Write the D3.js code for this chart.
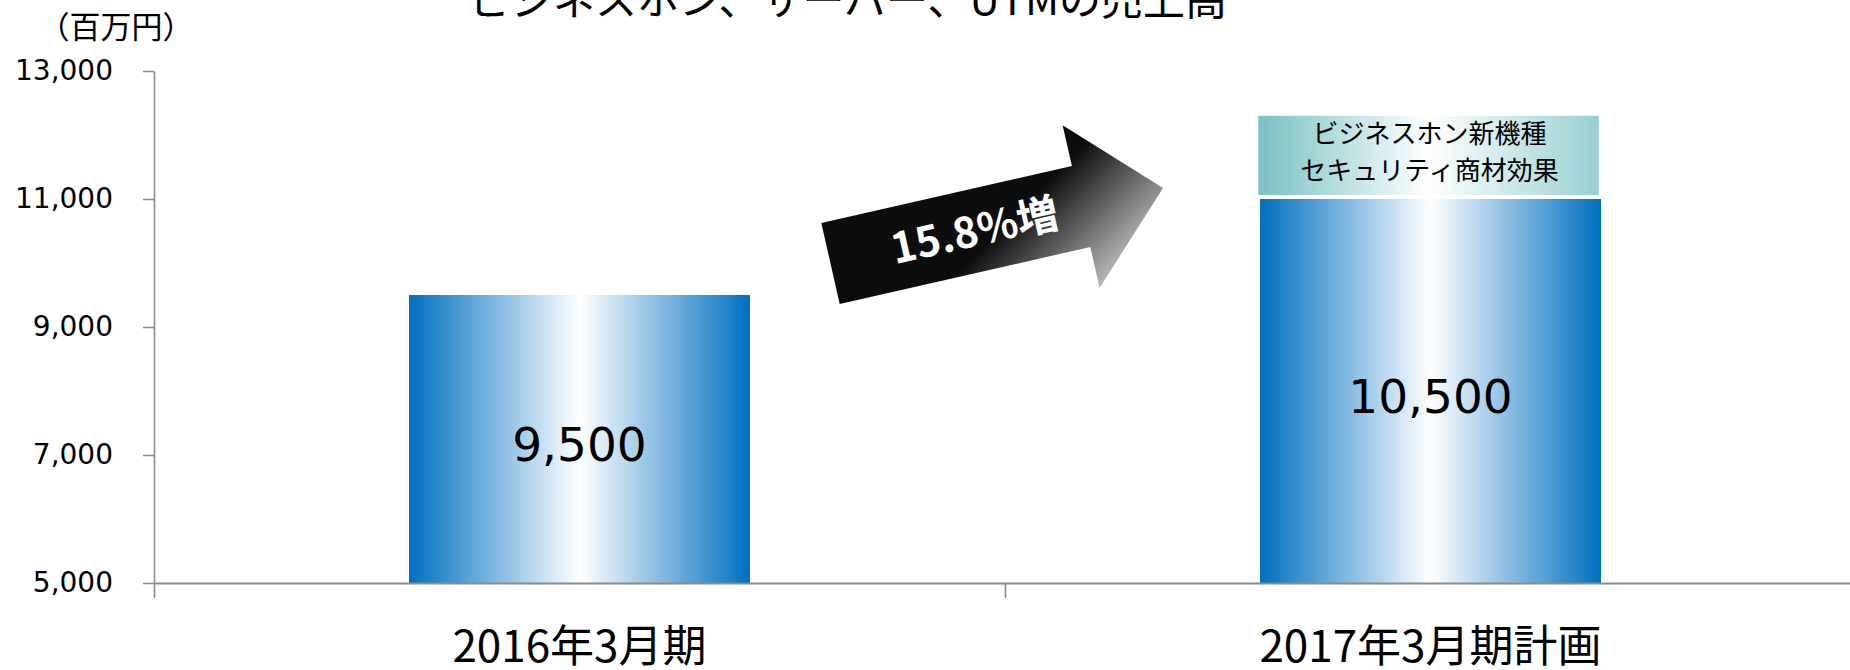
<!DOCTYPE html>
<html lang="ja">
<head>
<meta charset="utf-8">
<title>ビジネスホン、サーバー、UTMの売上高</title>
<script src="https://cdn.jsdelivr.net/npm/d3@7/dist/d3.min.js"></script>
<style>
  html, body { margin: 0; padding: 0; background: #ffffff; }
  svg { display: block; }
  .jp { font-family: "Noto Sans CJK JP", "Noto Sans", sans-serif; }
  .num { font-family: "DejaVu Sans", Verdana, sans-serif; }
</style>
</head>
<body>
<div id="chart"></div>
<script>
// ---- data ----
const chartTitle = "ビジネスホン、サーバー、UTMの売上高";
const unitLabel = "（百万円）";
const categories = ["2016年3月期", "2017年3月期計画"];
const baseSales = [9500, 10500];      // 百万円
const addedSales = [0, 500];          // 新機種・セキュリティ商材による上積み
const yTickValues = [5000, 7000, 9000, 11000, 13000];
const yDomain = [5000, 13000];
const noteLines = ["ビジネスホン新機種", "セキュリティ商材効果"];
const noteTopValue = 12300;

// ---- layout ----
const width = 1850, height = 670;
const plot = { left: 154, right: 1856, top: 71, bottom: 583 };

const table = categories.map((c, i) => ({ category: c, base: baseSales[i], added: addedSales[i] }));
const stacked = d3.stack().keys(["base", "added"])(table);
const totals = table.map(d => d.base + d.added);

const svg = d3.select("#chart").append("svg")
  .attr("width", width).attr("height", height);

const x = d3.scaleBand()
  .domain(categories)
  .range([plot.left, plot.right])
  .paddingInner(0.6)
  .paddingOuter(0.3);

const y = d3.scaleLinear().domain(yDomain).range([plot.bottom, plot.top]);

// ---- gradients ----
const defs = svg.append("defs");
const barGrad = defs.append("linearGradient").attr("id", "barFill")
  .attr("x1", 0).attr("y1", 0).attr("x2", 1).attr("y2", 0);
barGrad.append("stop").attr("offset", 0).attr("stop-color", "#0070c0");
barGrad.append("stop").attr("offset", 0.5).attr("stop-color", "#ffffff");
barGrad.append("stop").attr("offset", 1).attr("stop-color", "#0070c0");

const noteGrad = defs.append("linearGradient").attr("id", "noteFill")
  .attr("x1", 0).attr("y1", 0).attr("x2", 1).attr("y2", 0);
noteGrad.append("stop").attr("offset", 0).attr("stop-color", "#79c0c3");
noteGrad.append("stop").attr("offset", 0.5).attr("stop-color", "#ffffff");
noteGrad.append("stop").attr("offset", 1).attr("stop-color", "#98cfd1");

// arrow: local frame runs along the arrow axis from the tail centre
const arrow = { cx: 830.5, cy: 263.5, angle: -12.8, length: 341, headLength: 84, shaftHalf: 41.5, headHalf: 83.5 };
const arrowGrad = defs.append("linearGradient").attr("id", "arrowFill")
  .attr("gradientUnits", "userSpaceOnUse")
  .attr("x1", 220).attr("y1", -25).attr("x2", 285).attr("y2", 76);
arrowGrad.append("stop").attr("offset", 0).attr("stop-color", "#0d0d0d");
arrowGrad.append("stop").attr("offset", 1).attr("stop-color", "#c6c6c6");

// ---- title & unit ----
svg.append("text").attr("class", "jp")
  .attr("x", 848).attr("y", 15)
  .attr("text-anchor", "middle")
  .attr("font-size", 42).attr("fill", "#000")
  .text(chartTitle);

svg.append("text").attr("class", "jp")
  .attr("x", 116).attr("y", 38)
  .attr("text-anchor", "middle")
  .attr("font-size", 31).attr("fill", "#000")
  .text(unitLabel);

// ---- bars (stacked) ----
svg.append("g").selectAll("g.layer")
  .data(stacked).join("g").attr("class", "layer")
  .selectAll("rect")
  .data(d => d.filter(s => s[1] > s[0]).map(s => ({ s, cat: s.data.category })))
  .join("rect")
  .attr("x", d => x(d.cat))
  .attr("width", x.bandwidth())
  .attr("y", d => y(d.s[1]))
  .attr("height", d => y(d.s[0] < yDomain[0] ? yDomain[0] : d.s[0]) - y(d.s[1]))
  .attr("fill", "url(#barFill)")
  .attr("shape-rendering", "crispEdges");

// value labels
svg.append("g").selectAll("text")
  .data(table).join("text")
  .attr("class", "num")
  .attr("x", d => x(d.category) + x.bandwidth() / 2)
  .attr("y", (d, i) => (y(yDomain[0]) + y(totals[i])) / 2 + 22)
  .attr("text-anchor", "middle")
  .attr("font-size", 47).attr("fill", "#000")
  .text(d => d3.format(",")(d.base));

// ---- note box above the plan column ----
const noteIdx = categories.length - 1;
const noteG = svg.append("g");
const noteBottom = y(totals[noteIdx]) - 4;
const noteTop = y(noteTopValue);
noteG.append("rect")
  .attr("x", x(categories[noteIdx]) - 2)
  .attr("width", x.bandwidth())
  .attr("y", noteTop)
  .attr("height", noteBottom - noteTop)
  .attr("fill", "url(#noteFill)");
noteG.selectAll("text").data(noteLines).join("text")
  .attr("class", "jp")
  .attr("x", x(categories[noteIdx]) + x.bandwidth() / 2 - 1)
  .attr("y", (d, i) => noteTop + 27 + i * 37)
  .attr("text-anchor", "middle")
  .attr("font-size", 26).attr("fill", "#000")
  .text(d => d);

// ---- growth arrow ----
const growth = totals[1] / totals[0] - 1;
const a = arrow, sx = a.length - a.headLength;
const arrowPts = [
  [0, -a.shaftHalf], [sx, -a.shaftHalf], [sx, -a.headHalf], [a.length, 0],
  [sx, a.headHalf], [sx, a.shaftHalf], [0, a.shaftHalf]
];
const arrowG = svg.append("g")
  .attr("transform", `translate(${a.cx},${a.cy}) rotate(${a.angle})`);
arrowG.append("path")
  .attr("d", d3.line()(arrowPts) + "Z")
  .attr("fill", "url(#arrowFill)");
arrowG.append("text").attr("class", "jp")
  .attr("x", 148).attr("y", 0).attr("dy", "0.36em")
  .attr("text-anchor", "middle")
  .attr("font-size", 42).attr("font-weight", 700)
  .attr("fill", "#ffffff")
  .text(d3.format(".1f")(growth * 100) + "%増");

// ---- axes ----
const axisColor = "#8c8c8c";

const yAxis = svg.append("g")
  .attr("transform", `translate(${plot.left},0)`)
  .call(d3.axisLeft(y).tickValues(yTickValues).tickFormat(d3.format(","))
    .tickSize(11).tickSizeOuter(0).tickPadding(30));
yAxis.select(".domain").attr("stroke", axisColor).attr("stroke-width", 1.6);
yAxis.selectAll(".tick line").attr("stroke", axisColor).attr("stroke-width", 1.6);
yAxis.selectAll(".tick text")
  .attr("class", "num").attr("font-size", 28).attr("fill", "#000")
  .attr("font-family", "DejaVu Sans, Verdana, sans-serif");

// category boundaries on the x axis
const xEdge = d3.scaleLinear().domain([0, categories.length]).range([plot.left, plot.right]);
const xAxis = svg.append("g")
  .attr("transform", `translate(0,${plot.bottom})`)
  .call(d3.axisBottom(xEdge).tickValues(d3.range(0, categories.length + 1))
    .tickSize(15).tickSizeOuter(0).tickFormat(""));
xAxis.select(".domain").attr("stroke", axisColor).attr("stroke-width", 2);
xAxis.selectAll(".tick line").attr("stroke", axisColor).attr("stroke-width", 1.6);

// category labels
svg.append("g").selectAll("text")
  .data(categories).join("text")
  .attr("class", "jp")
  .attr("x", d => x(d) + x.bandwidth() / 2)
  .attr("y", 662)
  .attr("text-anchor", "middle")
  .attr("font-size", 44).attr("fill", "#000")
  .text(d => d);
</script>
</body>
</html>
